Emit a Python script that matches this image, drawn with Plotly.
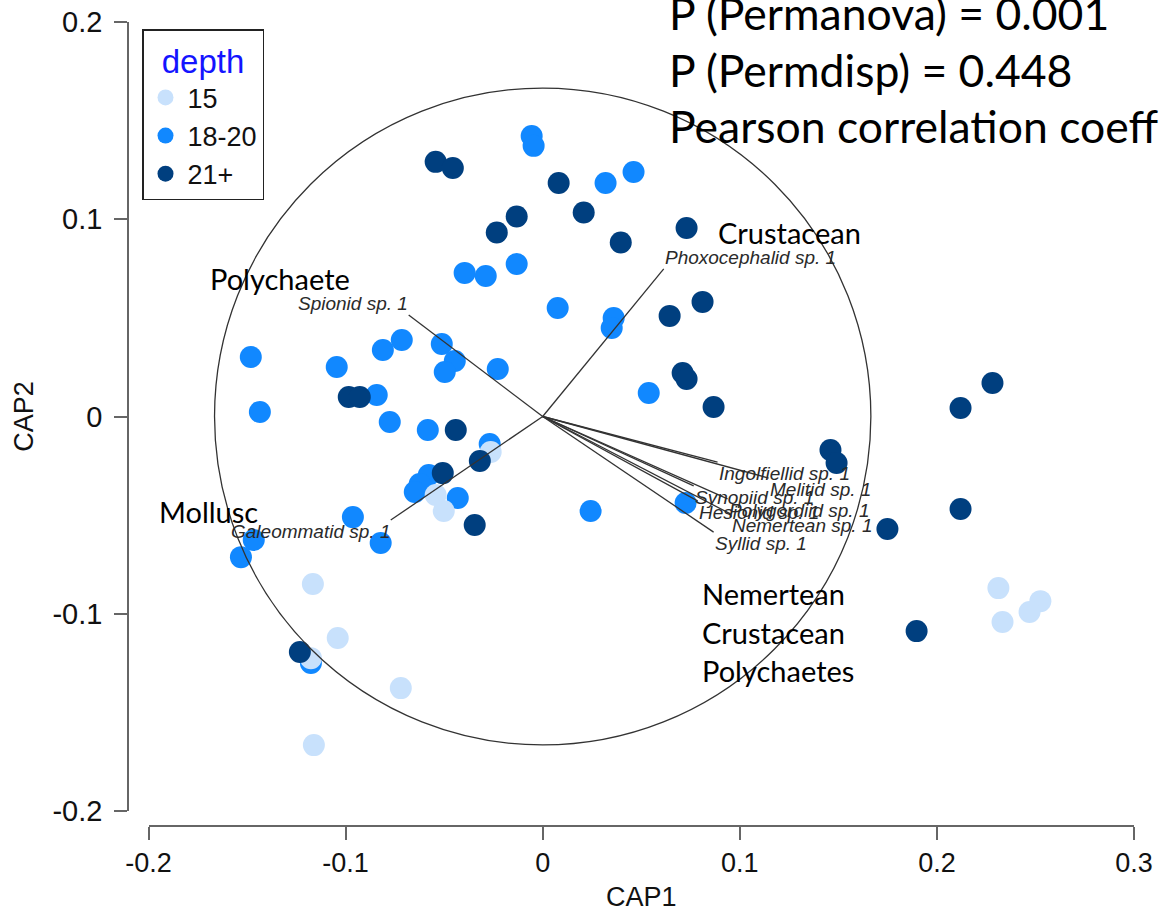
import plotly.graph_objects as go

W, H = 1160, 912

# CAP ordination scores per depth group
cap1_15 = [-0.0264, -0.0543, -0.0502, -0.1166, -0.1040, -0.1176, -0.0720, -0.1161,
           0.2312, 0.2525, 0.2470, 0.2333]
cap2_15 = [-0.0180, -0.0398, -0.0479, -0.0849, -0.1123, -0.1225, -0.1377, -0.1666,
           -0.0870, -0.0936, -0.0991, -0.1042]

cap1_18_20 = [-0.0056, -0.0046, 0.0319, 0.0461, -0.0396, -0.0289, -0.0132, 0.0076,
              0.0360, 0.0350, -0.1481, -0.1435, -0.1045, -0.0811, -0.0715, -0.0512,
              -0.0446, -0.0497, -0.0228, -0.0842, -0.0776, -0.0583, -0.0269, -0.0578,
              -0.0624, -0.0649, -0.0431, -0.0963, -0.0822, -0.1466, -0.1531, -0.1176,
              0.0243, 0.0538, 0.0725]
cap2_18_20 = [0.1422, 0.1372, 0.1184, 0.1240, 0.0728, 0.0712, 0.0773, 0.0550,
              0.0499, 0.0449, 0.0302, 0.0023, 0.0251, 0.0337, 0.0388, 0.0368,
              0.0281, 0.0226, 0.0241, 0.0109, -0.0028, -0.0068, -0.0139, -0.0297,
              -0.0342, -0.0383, -0.0413, -0.0510, -0.0641, -0.0626, -0.0713, -0.1250,
              -0.0479, 0.0119, -0.0439]

cap1_21 = [-0.0543, -0.0456, 0.0081, 0.0208, -0.0132, -0.0233, 0.0396, 0.0730,
           0.0644, 0.0811, -0.0984, -0.0928, -0.0441, -0.0319, -0.0507, -0.0345,
           -0.1232, 0.0710, 0.0730, 0.0867, 0.1460, 0.1491, 0.1749, 0.1897,
           0.2120, 0.2282, 0.2120]
cap2_21 = [0.1291, 0.1260, 0.1184, 0.1034, 0.1014, 0.0933, 0.0882, 0.0956,
           0.0510, 0.0581, 0.0099, 0.0099, -0.0068, -0.0226, -0.0287, -0.0550,
           -0.1194, 0.0221, 0.0190, 0.0048, -0.0170, -0.0236, -0.0570, -0.1088,
           0.0043, 0.0170, -0.0469]

# Pearson correlation vectors (species) - tip coordinates
species = ["Spionid sp. 1", "Phoxocephalid sp. 1", "Galeommatid sp. 1",
           "Ingolfiellid sp. 1", "Melitid sp. 1", "Synopiid sp. 1",
           "Hesionid sp. 1", "Polygordiid sp. 1", "Nemertean sp. 1", "Syllid sp. 1"]
vec_x = [-0.0680, 0.0614, -0.0771, 0.0887, 0.1146, 0.0766, 0.0786, 0.0938, 0.0953, 0.0867]
vec_y = [0.0515, 0.0748, -0.0525, -0.0231, -0.0312, -0.0352, -0.0428, -0.0418, -0.0494, -0.0586]

circle_r = 0.1665

x_ticks = [-0.2, -0.1, 0, 0.1, 0.2, 0.3]
x_ticktext = ["-0.2", "-0.1", "0", "0.1", "0.2", "0.3"]
y_ticks = [-0.2, -0.1, 0, 0.1, 0.2]
y_ticktext = ["-0.2", "-0.1", "0", "0.1", "0.2"]

stats_lines = ["P (Permanova) = 0.001", "P (Permdisp) = 0.448", "Pearson correlation coeff"]

colors = {"15": "#c8e1fc", "18-20": "#1188ff", "21+": "#003f7f"}

AX_FONT = "Liberation Sans, Arial, sans-serif"
NOTE_FONT = "Lato, 'Open Sans', sans-serif"

fig = go.Figure()

groups = [("18-20", cap1_18_20, cap2_18_20, 2),
          ("15", cap1_15, cap2_15, 1),
          ("21+", cap1_21, cap2_21, 3)]
for name, xs, ys, rank in groups:
    fig.add_trace(go.Scatter(
        x=xs, y=ys, mode="markers", name=name, legendrank=rank,
        marker=dict(size=22, color=colors[name], line=dict(width=0)),
        cliponaxis=False, hoverinfo="skip",
    ))

# vectors from the origin
vx, vy = [], []
for x, y in zip(vec_x, vec_y):
    vx += [0, x, None]
    vy += [0, y, None]
fig.add_trace(go.Scatter(x=vx, y=vy, mode="lines", showlegend=False,
                         line=dict(color="#333333", width=1.3), hoverinfo="skip",
                         cliponaxis=False))

# correlation circle
fig.add_shape(type="circle", xref="x", yref="y",
              x0=-circle_r, y0=-circle_r, x1=circle_r, y1=circle_r,
              line=dict(color="#333333", width=1.3), layer="above")

annotations = []
for name, x, y in zip(species, vec_x, vec_y):
    annotations.append(dict(
        x=x, y=y, xref="x", yref="y", text="<i>" + name + "</i>", showarrow=False,
        xanchor="left" if x > 0 else "right",
        yanchor="bottom" if y > 0 else "top",
        font=dict(family=AX_FONT, size=19, color="#2a2a2a"),
        borderpad=0,
    ))

def px(xp):
    return xp / W

def py(yp):
    return 1 - yp / H

# group captions
captions = [("Crustacean", 716, 233), ("Polychaete", 208, 278), ("Mollusc", 157, 511),
            ("Nemertean", 700, 593), ("Crustacean", 700, 632), ("Polychaetes", 700, 670)]
for text, xp, yp in captions:
    annotations.append(dict(x=px(xp), y=py(yp), xref="paper", yref="paper", text=text,
                            showarrow=False, xanchor="left", yanchor="middle",
                            font=dict(family=NOTE_FONT, size=29, color="#000000")))

for text, yp in zip(stats_lines, [12, 69, 125]):
    annotations.append(dict(x=px(667), y=py(yp), xref="paper", yref="paper", text=text,
                            showarrow=False, xanchor="left", yanchor="middle",
                            font=dict(family=NOTE_FONT, size=44.5, color="#000000")))

axis_common = dict(showgrid=False, zeroline=False, showline=True, linecolor="#666666",
                   linewidth=1.5, ticks="outside", ticklen=13, tickwidth=1.5,
                   tickcolor="#666666", anchor="free", automargin=False)

fig.update_layout(
    width=W, height=H,
    margin=dict(l=0, r=0, t=0, b=0),
    paper_bgcolor="white", plot_bgcolor="white",
    xaxis=dict(domain=[px(148.5), px(1134)], range=[-0.2, 0.3], position=py(826),
               tickvals=x_ticks, ticktext=x_ticktext,
               tickfont=dict(family=AX_FONT, size=27, color="#111111"),
               title=dict(text="CAP1", font=dict(family=AX_FONT, size=27, color="#111111"),
                          standoff=10),
               **axis_common),
    yaxis=dict(domain=[py(811), py(22)], range=[-0.2, 0.2], position=px(128),
               tickvals=y_ticks, ticktext=y_ticktext, ticklabelstandoff=6,
               tickfont=dict(family=AX_FONT, size=29, color="#111111"),
               title=dict(text="CAP2", font=dict(family=AX_FONT, size=27, color="#111111"),
                          standoff=10),
               **axis_common),
    legend=dict(x=px(142), y=py(29), xanchor="left", yanchor="top",
                bordercolor="#222222", borderwidth=1.5, bgcolor="white",
                font=dict(family=AX_FONT, size=27, color="#111111"),
                title=dict(text="depth", side="top center",
                           font=dict(family=AX_FONT, size=33, color="#1414ff")),
                itemwidth=34, tracegroupgap=0),
    annotations=annotations,
    showlegend=True,
)

fig.write_html("out.html")
